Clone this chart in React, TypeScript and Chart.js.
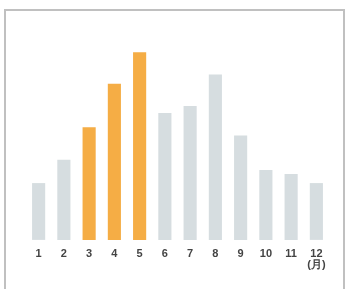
import React, { useEffect, useRef } from "react";
import { Chart, registerables } from "chart.js";

Chart.register(...registerables);

const months: (string | string[])[] = ["1", "2", "3", "4", "5", "6", "7", "8", "9", "10", "11", ["12", "(月)"]];
const values: number[] = [56, 79, 111, 154, 185, 125, 132, 163, 103, 69, 65, 56];
const highlighted: boolean[] = [false, false, true, true, true, false, false, false, false, false, false, false];

const ORANGE = "#F5AD45";
const GRAY = "#D6DDE0";

export default function App() {
  const ref = useRef<HTMLCanvasElement>(null);
  useEffect(() => {
    const chart = new Chart(ref.current!, {
      type: "bar",
      data: {
        labels: months,
        datasets: [
          {
            data: values,
            backgroundColor: highlighted.map((h) => (h ? ORANGE : GRAY)),
            borderWidth: 0,
            categoryPercentage: 1,
            barPercentage: 0.52,
          },
        ],
      },
      options: {
        animation: false,
        responsive: false,
        devicePixelRatio: 1,
        layout: { padding: { left: 26, right: 18, top: 37, bottom: 10 } },
        plugins: { legend: { display: false }, tooltip: { enabled: false } },
        scales: {
          x: {
            grid: { display: false, drawTicks: false },
            border: { display: false },
            ticks: {
              color: "#444",
              padding: 8,
              font: { family: "Liberation Sans, Arial, sans-serif", size: 11, weight: "bold", lineHeight: 1.05 },
              maxRotation: 0,
              autoSkip: false,
            },
          },
          y: { display: false, min: 0, max: 200 },
        },
      },
    });
    return () => chart.destroy();
  }, []);
  return (
    <div style={{ position: "fixed", left: 0, top: 0, width: 347, height: 289, background: "#fff", overflow: "hidden" }}>
      <div
        style={{
          position: "absolute",
          left: 4,
          top: 9,
          width: 341,
          height: 300,
          border: "2px solid #c0c0c0",
          boxSizing: "border-box",
        }}
      />
      <canvas ref={ref} width={347} height={289} style={{ position: "absolute", left: 0, top: 0, width: 347, height: 289 }} />
    </div>
  );
}
